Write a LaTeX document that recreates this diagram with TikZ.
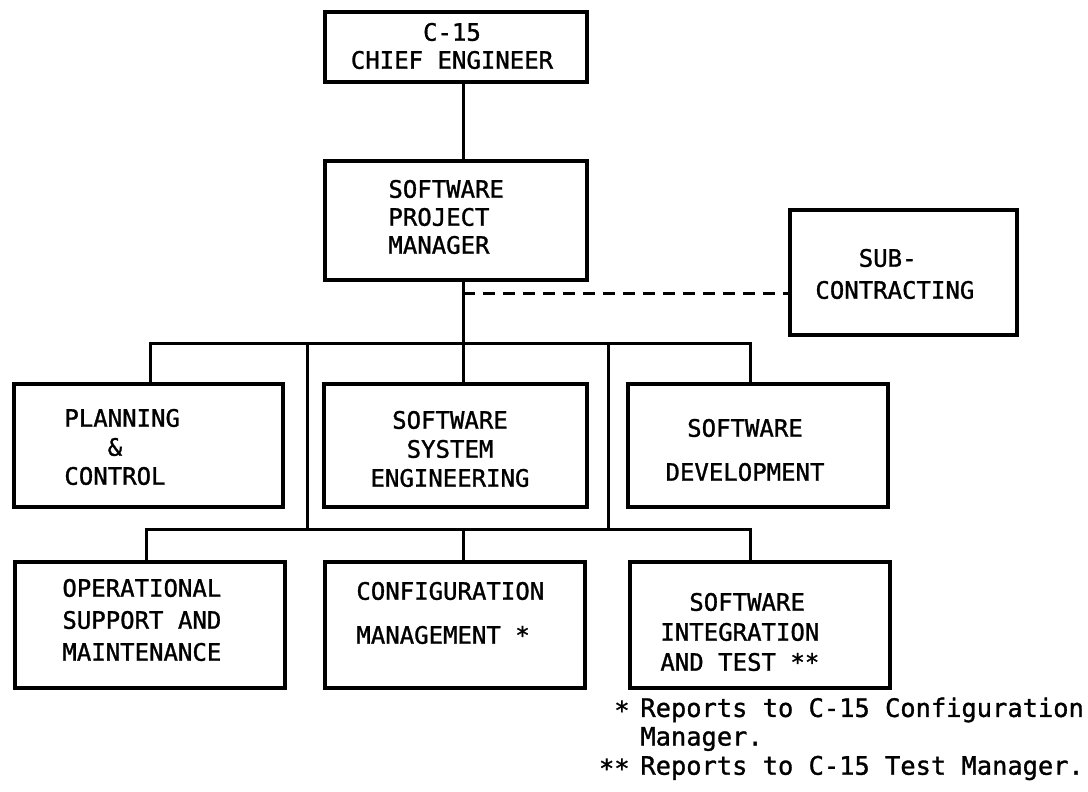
\documentclass[tikz,border=0pt]{standalone}
\usepackage{fontspec}
\newfontfamily\boxfont[FakeBold=1.2]{DejaVu Sans Mono}
\begin{document}
\begin{tikzpicture}[x=0.5pt,y=-0.5pt,
  box/.style={draw, line width=1.6pt, inner sep=0pt},
  lbl/.style={font=\boxfont\fontsize{12}{14}\selectfont, inner sep=0pt},
  fn/.style={font=\boxfont\fontsize{12.7}{14.5}\selectfont, inner sep=0pt},
  conn/.style={line width=1.5pt},
  dconn/.style={line width=1.5pt, dash pattern=on 6pt off 4pt}]
\useasboundingbox (0,0) rectangle (1088,792);

% boxes
\node[box, minimum width=131pt, minimum height=35pt]   (chief) at (456,47) {};
\node[box, minimum width=131pt, minimum height=59.5pt] (spm)   at (456,220.5) {};
\node[box, minimum width=113.5pt, minimum height=62.5pt] (sub) at (903.5,272.5) {};
\node[box, minimum width=134.5pt, minimum height=61.5pt] (plan) at (148.5,445.5) {};
\node[box, minimum width=131.5pt, minimum height=61.5pt] (sse)  at (455.5,445.5) {};
\node[box, minimum width=130pt, minimum height=61.5pt]   (sd)   at (758,445.5) {};
\node[box, minimum width=135pt, minimum height=63pt] (osm) at (150,625) {};
\node[box, minimum width=130pt, minimum height=63pt] (cm)  at (455,625) {};
\node[box, minimum width=130pt, minimum height=63pt] (sit) at (760,625) {};

% texts
\node[lbl, align=center] (tchief) at (452,46) {C-15\\CHIEF ENGINEER};
\node[lbl, align=left, anchor=west] (tspm) at (388,217) {SOFTWARE\\PROJECT\\MANAGER};
\node[lbl, align=left, anchor=west] (tsub) at (815,274) {\phantom{XXX}SUB-\\[2pt]CONTRACTING};
\node[lbl, align=left, anchor=west] (tplan) at (64,447) {PLANNING\\[0.5pt]\phantom{PLA}\&\\[0.5pt]CONTROL};
\node[lbl, align=center] (tsse) at (450,449) {SOFTWARE\\[0.5pt]SYSTEM\\[0.5pt]ENGINEERING};
\node[lbl, align=center] (tsd) at (745,450) {SOFTWARE\\[8pt]DEVELOPMENT};
\node[lbl, align=left, anchor=west] (tosm) at (62,620) {OPERATIONAL\\[2pt]SUPPORT AND\\[2pt]MAINTENANCE};
\node[lbl, align=left, anchor=west] (tcm) at (356,613) {CONFIGURATION\\[8pt]MANAGEMENT *};
\node[lbl, align=left, anchor=west] (tsit) at (660,632) {\phantom{XX}SOFTWARE\\[1pt]INTEGRATION\\[1pt]AND TEST **};

% footnotes
\node[fn, anchor=east] (s1) at (630,710) {*};
\node[fn, anchor=west] (f1) at (640,710) {Reports to C-15 Configuration};
\node[fn, anchor=west] (f2) at (640,739) {Manager.};
\node[fn, anchor=east] (s2) at (630,768) {**};
\node[fn, anchor=west] (f3) at (640,768) {Reports to C-15 Test Manager.};

% reference coordinates
\coordinate (xc) at (463,0);
\coordinate (xl) at (150,0);
\coordinate (xl2) at (146,0);
\coordinate (xr) at (750,0);
\coordinate (v1) at (307,0);
\coordinate (v2) at (608,0);
\coordinate (bt) at (0,343);
\coordinate (bb) at (0,529);
\coordinate (dy) at (0,293);

% connectors
\draw[conn] (chief.south -| xc) -- (spm.north -| xc);
\draw[conn] (spm.south -| xc) -- (sse.north -| xc);
\draw[dconn] (xc |- dy) -- (sub.west |- dy);
\draw[conn] (plan.north -| xl) |- (bt -| xr) -- (sd.north -| xr);
\draw[conn] (bt -| v1) -- (bb -| v1);
\draw[conn] (bt -| v2) -- (bb -| v2);
\draw[conn] (osm.north -| xl2) |- (bb -| xr) -- (sit.north -| xr);
\draw[conn] (bb -| xc) -- (cm.north -| xc);
\end{tikzpicture}
\end{document}
